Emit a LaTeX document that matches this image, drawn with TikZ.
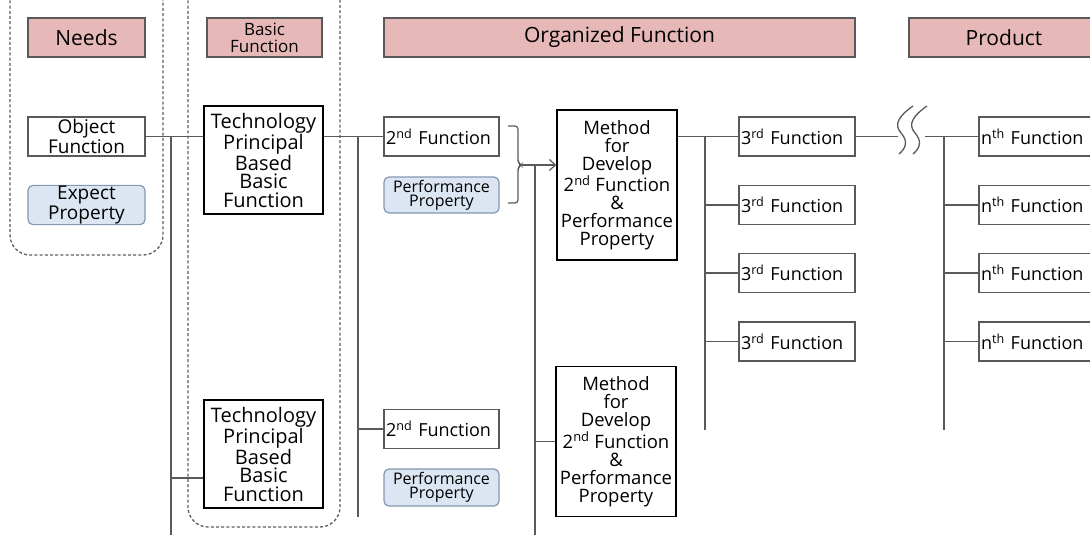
\documentclass[tikz,border=0pt]{standalone}
\usepackage{fontspec}
\setmainfont{Open Sans}
\usetikzlibrary{arrows.meta}
\definecolor{hdr}{HTML}{E6B9B8}
\definecolor{hdrline}{HTML}{595959}
\definecolor{bluefill}{HTML}{DCE6F2}
\definecolor{blueline}{HTML}{8497B0}
\definecolor{conn}{HTML}{5A5A5A}
\definecolor{grp}{HTML}{5E5E5E}
\tikzset{
  every node/.style={font=\fontsize{18}{18}\selectfont, inner sep=1pt},
  hdrbox/.style={draw=hdrline, fill=hdr, line width=1.2pt, minimum height=39pt, align=center, font=\fontsize{21}{21}\selectfont},
  plainbox/.style={draw=hdrline, fill=white, line width=1.2pt, minimum height=39pt, minimum width=#1, text width=#1-4pt, align=left, inner xsep=1pt, font=\fontsize{18}{18}\selectfont},
  bluebox/.style={draw=blueline, fill=bluefill, line width=1.2pt, rounded corners=5pt, minimum height=37pt, minimum width=#1, align=center},
  bigbox/.style={draw=black, fill=white, line width=1.5pt, minimum width=#1, align=center},
  pair/.style={font=\fontsize{19}{16}\selectfont},
  perf/.style={font=\fontsize{16}{14}\selectfont},
  conline/.style={draw=conn, line width=1.2pt},
  grpline/.style={draw=grp, line width=1.3pt, dash pattern=on 3pt off 2.2pt, rounded corners=20pt},
}
\begin{document}
\begin{tikzpicture}[x=1pt, y=-1pt]
\useasboundingbox (0,0) rectangle (1090,535);
% groups
\draw[grpline] (10,-30) rectangle (163,255);
\draw[grpline] (188,-30) rectangle (340,527);
% headers
\node[hdrbox, minimum width=117pt] (hNeeds) at (86.5,37.5) {Needs};
\node[hdrbox, minimum width=115pt, font=\fontsize{17}{17}\selectfont, inner ysep=0pt] (hBasic) at (264.5,37.5) {Basic\\Function};
\node[hdrbox, minimum width=471pt] (hOrg) at (619.5,37.5) {Organized Function};
\node[hdrbox, minimum width=190pt] (hProd) at (1004,37.5) {Product};
% needs
\node[draw=hdrline, fill=white, line width=1.2pt, minimum width=117pt, minimum height=39pt, align=center, pair] (obj) at (86.5,136.5) {Object\\Function};
\node[bluebox=117pt, pair] (exp) at (86.5,205) {Expect\\Property};
% tech boxes
\node[bigbox=119pt, minimum height=108pt, font=\fontsize{20}{18.5}\selectfont] (tech1) at (263.5,160) {Technology\\Principal\\Based\\Basic\\Function};
\node[bigbox=119pt, minimum height=108pt, font=\fontsize{20}{18.5}\selectfont] (tech2) at (263.5,454) {Technology\\Principal\\Based\\Basic\\Function};
% 2nd functions
\node[plainbox=115pt] (f2a) at (441.5,136.5) {2\textsuperscript{nd} Function};
\node[bluebox=115pt, minimum height=36pt, perf] (pp1) at (441.5,195) {Performance\\Property};
\node[plainbox=115pt] (f2b) at (441.5,429) {2\textsuperscript{nd} Function};
\node[bluebox=115pt, perf] (pp2) at (441.5,487.5) {Performance\\Property};
% methods
\node[bigbox=120pt, minimum height=150pt, font=\fontsize{18.5}{18}\selectfont] (m1) at (617,185) {Method\\for\\Develop\\2\textsuperscript{nd} Function\\\&\\Performance\\Property};
\node[bigbox=120pt, minimum height=150pt, font=\fontsize{18.5}{18}\selectfont] (m2) at (616,441.5) {Method\\for\\Develop\\2\textsuperscript{nd} Function\\\&\\Performance\\Property};
% 3rd functions
\node[plainbox=116pt] (f3a) at (797,136.5) {3\textsuperscript{rd} Function};
\node[plainbox=116pt] (f3b) at (797,205) {3\textsuperscript{rd} Function};
\node[plainbox=116pt] (f3c) at (797,273) {3\textsuperscript{rd} Function};
\node[plainbox=116pt] (f3d) at (797,341.5) {3\textsuperscript{rd} Function};
% nth functions
\node[plainbox=125pt] (fna) at (1041.5,136.5) {n\textsuperscript{th} Function};
\node[plainbox=125pt] (fnb) at (1041.5,205) {n\textsuperscript{th} Function};
\node[plainbox=125pt] (fnc) at (1041.5,273) {n\textsuperscript{th} Function};
\node[plainbox=125pt] (fnd) at (1041.5,341.5) {n\textsuperscript{th} Function};
% coordinates
\coordinate (t1top) at (171,136.5);
\coordinate (t1bot) at (171,540);
\coordinate (t2top) at (358,136.5);
\coordinate (t2bot) at (358,517);
\coordinate (brk) at (520,165);
\coordinate (t3top) at (535,165);
\coordinate (t3bot) at (535,540);
\coordinate (t4top) at (705,136.5);
\coordinate (t4bot) at (705,430);
\coordinate (sqL) at (898,136.5);
\coordinate (sqR) at (925,136.5);
\coordinate (t5top) at (944,136.5);
\coordinate (t5bot) at (944,430);
% connectors
\draw[conline] (obj.east) -- (obj.east -| tech1.west);
\draw[conline] (t1top) -- (t1bot);
\draw[conline] (t1top |- 0,478) -- (tech2.west |- 0,478);
\draw[conline] (tech1.east |- f2a.west) -- (f2a.west);
\draw[conline] (t2top) -- (t2bot);
\draw[conline] (t2top |- f2b.west) -- (f2b.west);
\draw[conline, rounded corners=3pt] (508,126) -- (518,126) -- (518,162) -- (521,165) -- (518,168) -- (518,203) -- (508,203);
\draw[conline, -{Straight Barb[length=6pt,width=11pt]}] (brk) -- (brk -| m1.west);
\draw[conline] (t3top) -- (t3bot);
\draw[conline] (t3top |- m2.west) -- (m2.west);
\draw[conline] (m1.east |- f3a.west) -- (f3a.west);
\draw[conline] (t4top) -- (t4bot);
\draw[conline] (t4top |- f3b.west) -- (f3b.west);
\draw[conline] (t4top |- f3c.west) -- (f3c.west);
\draw[conline] (t4top |- f3d.west) -- (f3d.west);
\draw[conline] (f3a.east) -- (sqL);
\draw[conline] (sqR) -- (fna.west);
\draw[conline] (t5top) -- (t5bot);
\draw[conline] (t5top |- fnb.west) -- (fnb.west);
\draw[conline] (t5top |- fnc.west) -- (fnc.west);
\draw[conline] (t5top |- fnd.west) -- (fnd.west);
% squiggle
\draw[conline, line width=1.3pt] (913,106) .. controls (900,115) and (893,124) .. (901,133) .. controls (909,142) and (905,149) .. (899,154);
\draw[conline, line width=1.3pt] (927,106) .. controls (914,115) and (907,124) .. (915,133) .. controls (923,142) and (919,149) .. (913,154);
\end{tikzpicture}
\end{document}
